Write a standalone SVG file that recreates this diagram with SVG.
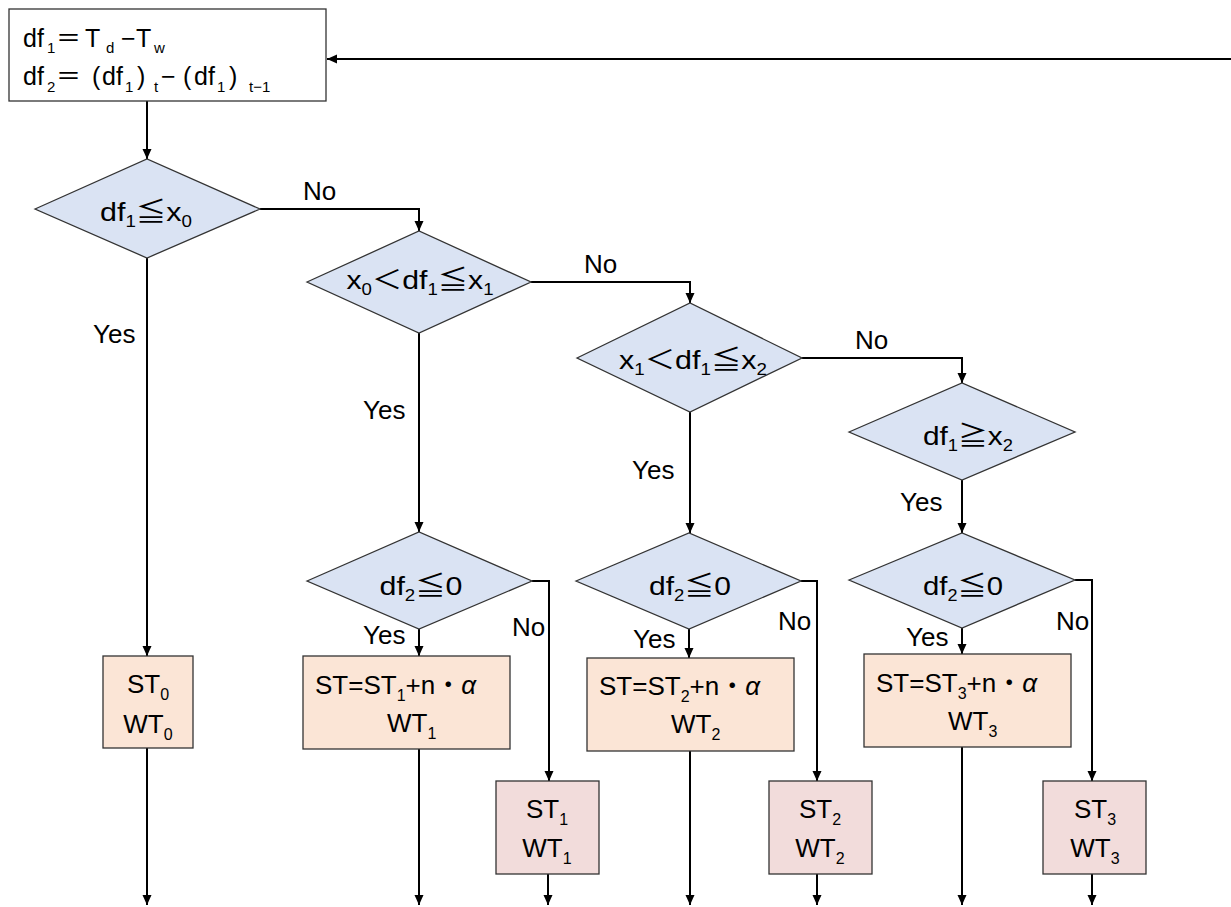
<svg xmlns="http://www.w3.org/2000/svg" width="1231" height="907" viewBox="0 0 1231 907">
<style>
.t{font-family:"Liberation Sans","Noto Sans CJK JP",sans-serif;font-size:26px;fill:#000}
.tb{font-family:"Liberation Sans","Noto Sans CJK JP",sans-serif;font-size:25px;fill:#000}
.s{font-size:16px}
.s2{font-size:15px}
.dia{fill:#dae3f3;stroke:#333;stroke-width:1.3}
.org{fill:#fbe5d6;stroke:#333;stroke-width:1.3}
.pnk{fill:#f2dcdb;stroke:#333;stroke-width:1.3}
.wht{fill:#fff;stroke:#333;stroke-width:1.3}
.c{fill:none;stroke:#000;stroke-width:2;marker-end:url(#ah)}
</style>
<defs>
<marker id="ah" markerUnits="userSpaceOnUse" markerWidth="10" markerHeight="10" refX="10" refY="5" orient="auto">
<path d="M0,0.5 L10,5 L0,9.5 z" fill="#000"/>
</marker>
</defs>
<rect width="1231" height="907" fill="#fff"/>

<g id="connectors">
<path class="c" d="M1231,59 H327"/>
<path class="c" d="M147,101 V159"/>
<path class="c" d="M260,209 H419 V231"/>
<path class="c" d="M147,258 V656"/>
<path class="c" d="M531,282 H690 V303"/>
<path class="c" d="M419,333 V532"/>
<path class="c" d="M802,358 H962 V383"/>
<path class="c" d="M690,412 V533"/>
<path class="c" d="M962,480 V533"/>
<path class="c" d="M419,629 V656"/>
<path class="c" d="M532,581 H549 V781"/>
<path class="c" d="M689,629 V658"/>
<path class="c" d="M801,581 H817 V781"/>
<path class="c" d="M962,628 V654"/>
<path class="c" d="M1075,580 H1092 V781"/>
<path class="c" d="M147,748 V905"/>
<path class="c" d="M419,749 V905"/>
<path class="c" d="M690,751 V905"/>
<path class="c" d="M962,747 V905"/>
<path class="c" d="M548,874 V905"/>
<path class="c" d="M817,874 V905"/>
<path class="c" d="M1092,874 V905"/>
</g>

<g id="labels">
<text class="t" x="303" y="200">No</text>
<text class="t" x="93" y="343">Yes</text>
<text class="t" x="584" y="273">No</text>
<text class="t" x="363" y="419">Yes</text>
<text class="t" x="855" y="349">No</text>
<text class="t" x="632" y="479">Yes</text>
<text class="t" x="900" y="511">Yes</text>
<text class="t" x="363" y="644">Yes</text>
<text class="t" x="512" y="636">No</text>
<text class="t" x="633" y="648">Yes</text>
<text class="t" x="778" y="630">No</text>
<text class="t" x="906" y="646">Yes</text>
<text class="t" x="1056" y="630">No</text>
</g>

<g id="start">
<rect class="wht" x="9" y="9" width="317" height="92"/>
<text class="tb" y="47"><tspan x="23">df</tspan><tspan class="s2" x="47" dy="6">1</tspan><tspan x="56" dy="-6">＝</tspan><tspan x="85">T</tspan><tspan class="s2" x="106" dy="6">d</tspan><tspan x="121" dy="-6">−</tspan><tspan x="136">T</tspan><tspan class="s2" x="154" dy="6">w</tspan></text>
<text class="tb" y="85"><tspan x="23">df</tspan><tspan class="s2" x="47" dy="7">2</tspan><tspan x="56" dy="-7">＝</tspan><tspan x="92">(</tspan><tspan x="102">df</tspan><tspan class="s2" x="125" dy="7">1</tspan><tspan x="137" dy="-7">)</tspan><tspan class="s2" x="154" dy="7">t</tspan><tspan x="161" dy="-7">−</tspan><tspan x="183">(</tspan><tspan x="194">df</tspan><tspan class="s2" x="217" dy="7">1</tspan><tspan x="229" dy="-7">)</tspan><tspan class="s2" x="249" dy="7">t−1</tspan></text>
</g>

<g id="d1">
<polygon class="dia" points="35,209 147,159 260,209 147,258"/>
<text class="t" x="146" y="221" text-anchor="middle" textLength="92" lengthAdjust="spacingAndGlyphs">df<tspan class="s" dy="6">1</tspan><tspan dy="-6">≦x</tspan><tspan class="s" dy="6">0</tspan></text>
</g>
<g id="d2">
<polygon class="dia" points="307,282 419,231 531,282 419,333"/>
<text class="t" x="420" y="289" text-anchor="middle" textLength="147" lengthAdjust="spacingAndGlyphs">x<tspan class="s" dy="6">0</tspan><tspan dy="-6">＜df</tspan><tspan class="s" dy="6">1</tspan><tspan dy="-6">≦x</tspan><tspan class="s" dy="6">1</tspan></text>
</g>
<g id="d3">
<polygon class="dia" points="577,358 690,303 802,358 690,412"/>
<text class="t" x="693" y="369" text-anchor="middle" textLength="148" lengthAdjust="spacingAndGlyphs">x<tspan class="s" dy="6">1</tspan><tspan dy="-6">＜df</tspan><tspan class="s" dy="6">1</tspan><tspan dy="-6">≦x</tspan><tspan class="s" dy="6">2</tspan></text>
</g>
<g id="d4">
<polygon class="dia" points="849,432 962,383 1075,432 962,480"/>
<text class="t" x="968" y="445" text-anchor="middle" textLength="90" lengthAdjust="spacingAndGlyphs">df<tspan class="s" dy="6">1</tspan><tspan dy="-6">≧x</tspan><tspan class="s" dy="6">2</tspan></text>
</g>
<g id="d5a">
<polygon class="dia" points="307,581 419,532 532,581 419,629"/>
<text class="t" x="421" y="595" text-anchor="middle" textLength="83" lengthAdjust="spacingAndGlyphs">df<tspan class="s" dy="6">2</tspan><tspan dy="-6">≦0</tspan></text>
</g>
<g id="d5b">
<polygon class="dia" points="576,581 689,533 801,581 689,629"/>
<text class="t" x="690" y="595" text-anchor="middle" textLength="82" lengthAdjust="spacingAndGlyphs">df<tspan class="s" dy="6">2</tspan><tspan dy="-6">≦0</tspan></text>
</g>
<g id="d5c">
<polygon class="dia" points="849,580 962,533 1075,580 962,628"/>
<text class="t" x="963" y="595" text-anchor="middle" textLength="80" lengthAdjust="spacingAndGlyphs">df<tspan class="s" dy="6">2</tspan><tspan dy="-6">≦0</tspan></text>
</g>

<g id="b0">
<rect class="org" x="103" y="656" width="90" height="92"/>
<text class="t" x="148" y="693" text-anchor="middle">ST<tspan class="s" dy="7">0</tspan></text>
<text class="t" x="148" y="733" text-anchor="middle">WT<tspan class="s" dy="7">0</tspan></text>
</g>
<g id="b1">
<rect class="org" x="303" y="656" width="207" height="93"/>
<text class="t" x="315" y="694">ST=ST<tspan class="s" dy="7">1</tspan><tspan dy="-7">+n・</tspan><tspan font-style="italic">α</tspan></text>
<text class="t" x="387" y="732">WT<tspan class="s" dy="7">1</tspan></text>
</g>
<g id="b2">
<rect class="org" x="587" y="658" width="207" height="93"/>
<text class="t" x="599" y="695">ST=ST<tspan class="s" dy="7">2</tspan><tspan dy="-7">+n・</tspan><tspan font-style="italic">α</tspan></text>
<text class="t" x="671" y="733">WT<tspan class="s" dy="7">2</tspan></text>
</g>
<g id="b3">
<rect class="org" x="864" y="654" width="207" height="93"/>
<text class="t" x="876" y="692">ST=ST<tspan class="s" dy="7">3</tspan><tspan dy="-7">+n・</tspan><tspan font-style="italic">α</tspan></text>
<text class="t" x="948" y="730">WT<tspan class="s" dy="7">3</tspan></text>
</g>
<g id="p1">
<rect class="pnk" x="496" y="781" width="103" height="93"/>
<text class="t" x="547" y="818" text-anchor="middle">ST<tspan class="s" dy="7">1</tspan></text>
<text class="t" x="547" y="857" text-anchor="middle">WT<tspan class="s" dy="7">1</tspan></text>
</g>
<g id="p2">
<rect class="pnk" x="769" y="781" width="103" height="93"/>
<text class="t" x="820" y="818" text-anchor="middle">ST<tspan class="s" dy="7">2</tspan></text>
<text class="t" x="820" y="857" text-anchor="middle">WT<tspan class="s" dy="7">2</tspan></text>
</g>
<g id="p3">
<rect class="pnk" x="1043" y="781" width="103" height="93"/>
<text class="t" x="1095" y="818" text-anchor="middle">ST<tspan class="s" dy="7">3</tspan></text>
<text class="t" x="1095" y="857" text-anchor="middle">WT<tspan class="s" dy="7">3</tspan></text>
</g>
</svg>
